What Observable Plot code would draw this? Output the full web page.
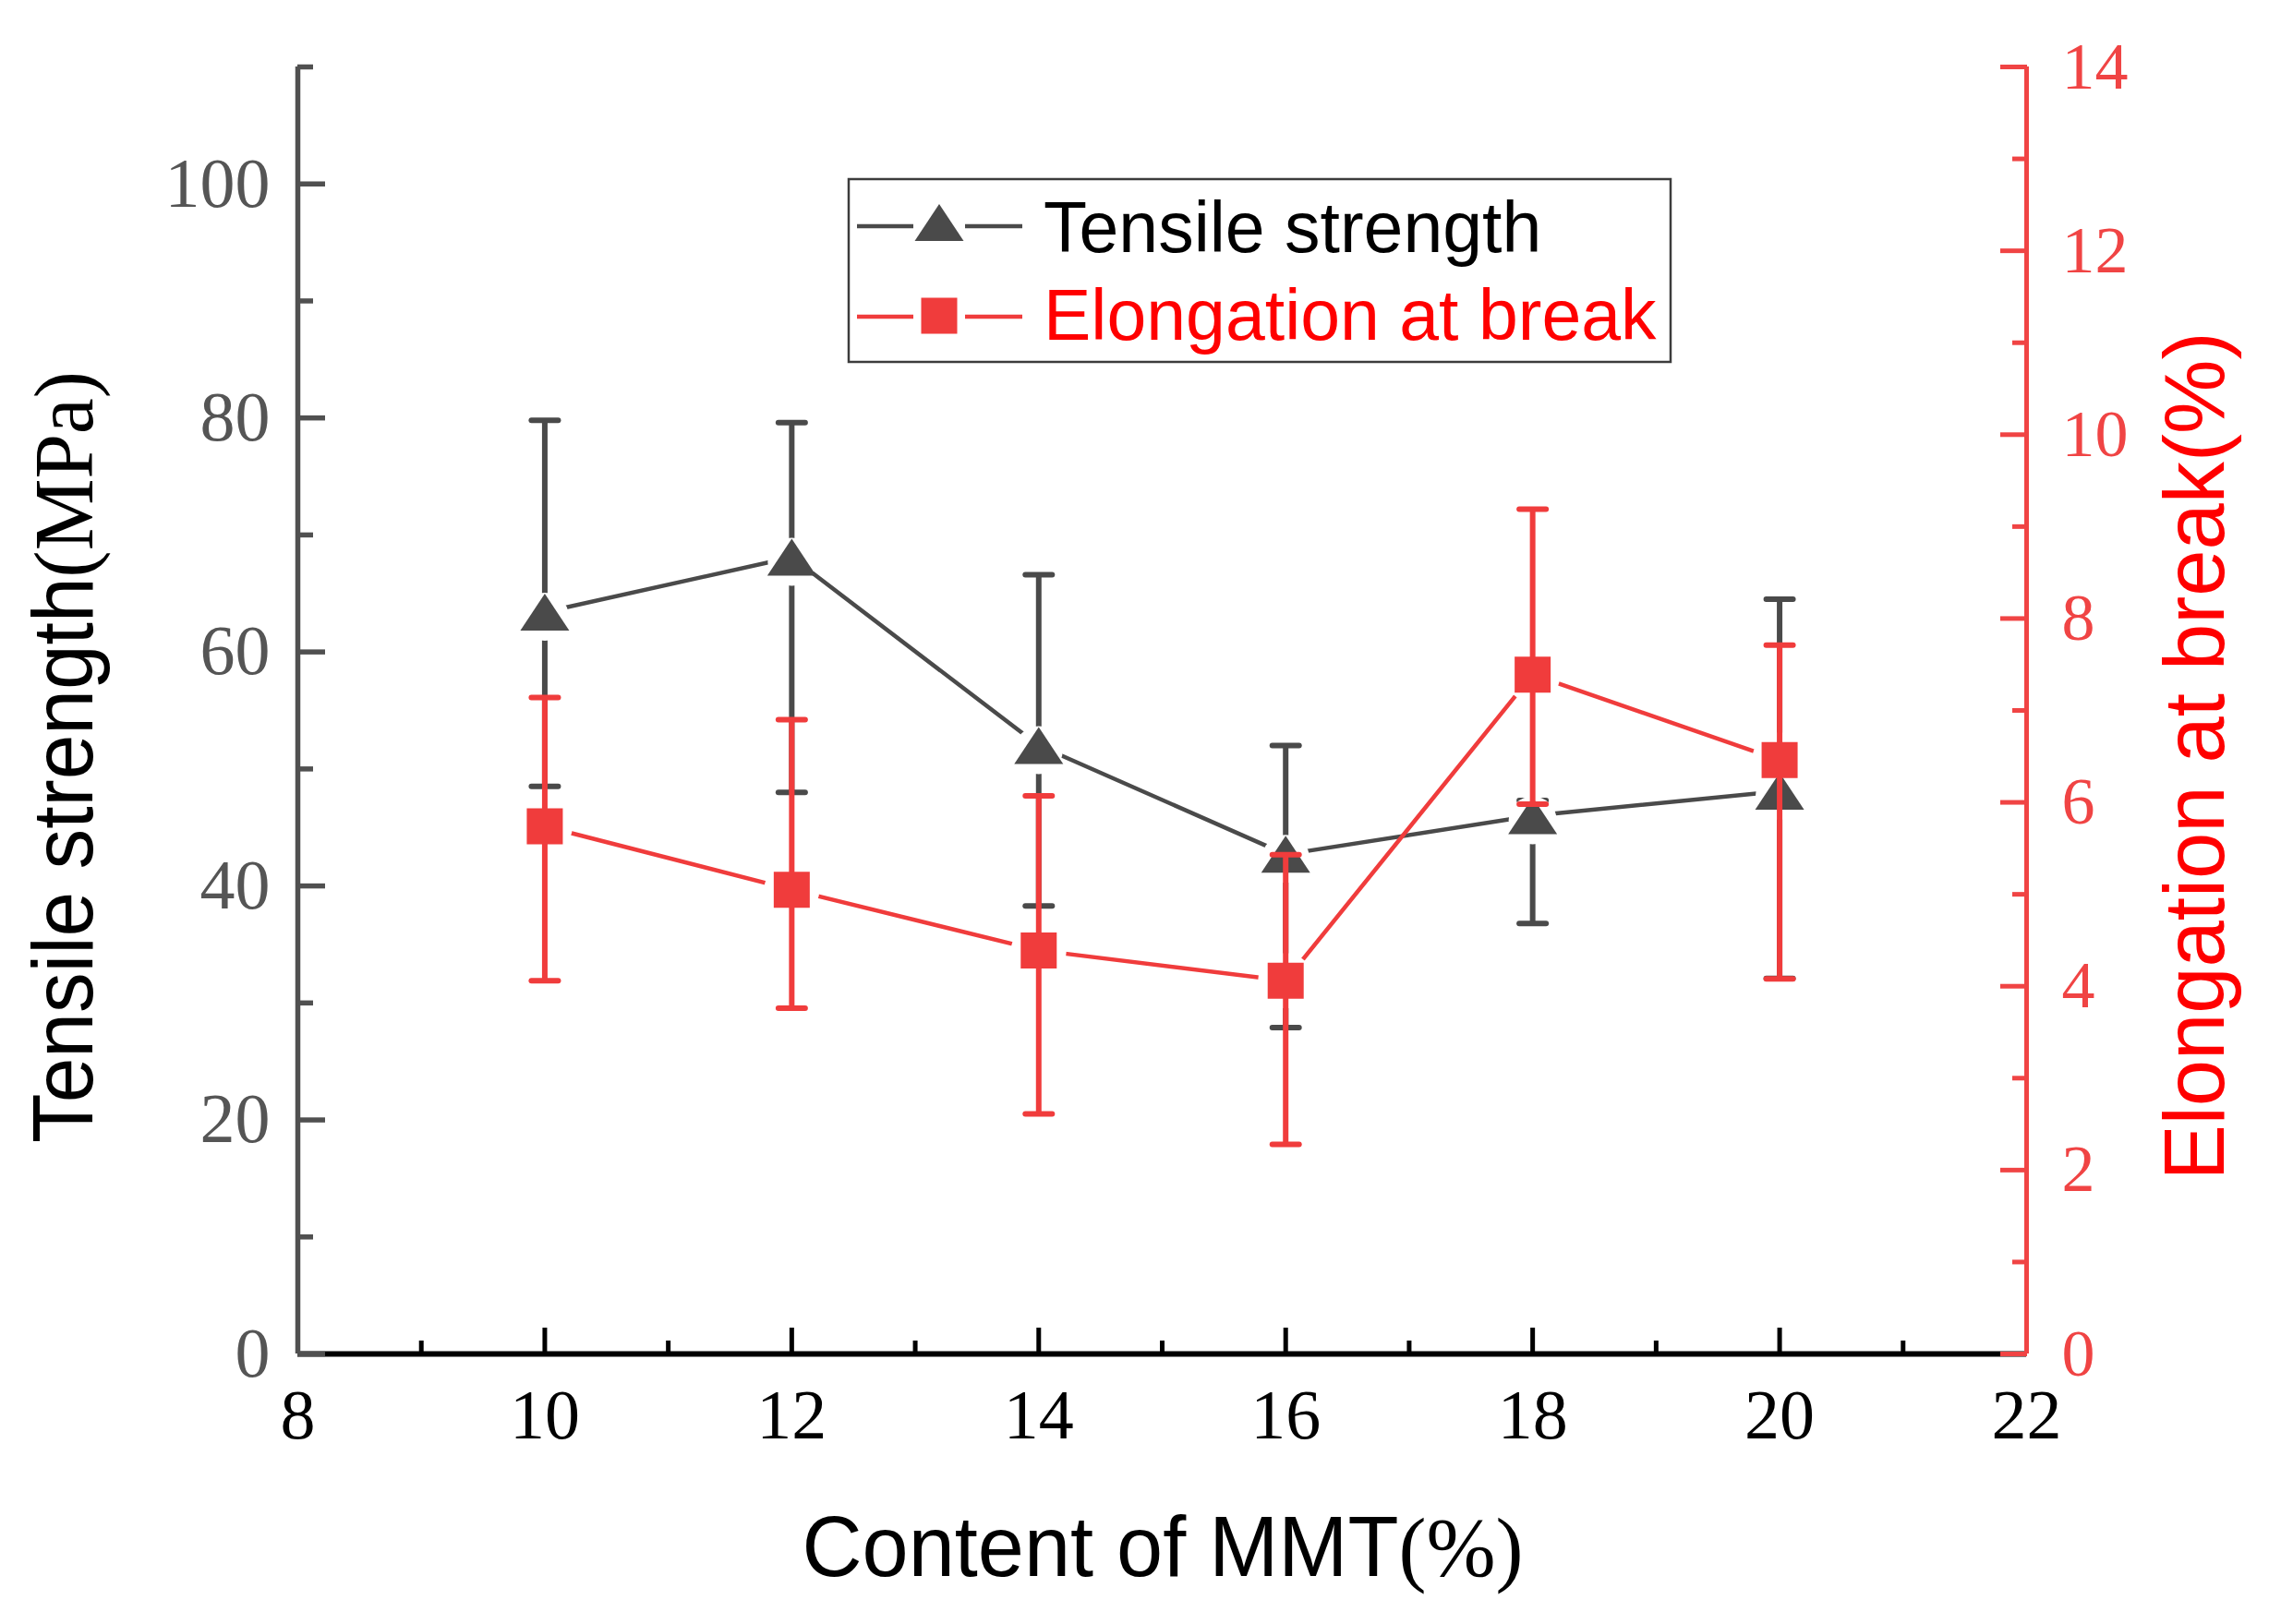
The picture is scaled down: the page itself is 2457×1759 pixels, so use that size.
<!DOCTYPE html>
<html>
<head>
<meta charset="utf-8">
<script src="https://cdn.jsdelivr.net/npm/d3@7"></script>
<script src="https://cdn.jsdelivr.net/npm/@observablehq/plot@0.6"></script>
<style>
html, body { margin: 0; padding: 0; background: #fff; }
#chart svg { display: block; }
</style>
</head>
<body>
<div id="chart"></div>
<script>
// ---------- data ----------
const content     = [10, 12, 14, 16, 18, 20];
const tensile     = [63.4, 68.1, 52.0, 42.7, 46.0, 48.1];
const tensileLow  = [48.5, 48.0, 38.3, 27.9, 36.8, 32.1];
const tensileHigh = [79.8, 79.6, 66.6, 52.0, 47.3, 64.5];
const elong       = [5.74, 5.05, 4.39, 4.06, 7.39, 6.46];
const elongLow    = [4.06, 3.76, 2.61, 2.28, 5.98, 4.08];
const elongHigh   = [7.14, 6.90, 6.07, 5.43, 9.19, 7.71];

const xLabels    = [8, 10, 12, 14, 16, 18, 20, 22];
const xMajor     = [10, 12, 14, 16, 18, 20];
const xMinor     = [9, 11, 13, 15, 17, 19, 21];
const leftMajor  = [0, 20, 40, 60, 80, 100];
const leftMinor  = [10, 30, 50, 70, 90, 110];
const rightMajor = [0, 2, 4, 6, 8, 10, 12, 14];
const rightMinor = [1, 3, 5, 7, 9, 11, 13];

const xDomain = [8, 22];
const leftMax = 110;
const rightMax = 14;

// ---------- derived table ----------
const k = leftMax / rightMax; // right axis -> left axis units
const rows = content.map((c, i) => ({
  c,
  t: tensile[i], tLo: tensileLow[i], tHi: tensileHigh[i],
  e: elong[i] * k, eLo: elongLow[i] * k, eHi: elongHigh[i] * k
}));

// ---------- styles ----------
const DARK = "#4a4a4a";
const AXDARK = "#505050";
const RED = "#f03c3c";
const AXRED = "#f04444";
const TXTRED = "#ff0000";
const LW = 4.5;   // connecting line width
const BW = 6;     // error bar width

const triSym = {draw(ctx) { ctx.moveTo(0, -20); ctx.lineTo(26.5, 20); ctx.lineTo(-26.5, 20); ctx.closePath(); }};
const sqSym  = {draw(ctx) { ctx.rect(-19.5, -19.5, 39, 39); }};
const capSym = {draw(ctx) { ctx.moveTo(-14.5, 0); ctx.lineTo(14.5, 0); }};
const triHalo = {draw(ctx) { ctx.moveTo(26, 5); ctx.arc(0, 5, 26, 0, 2 * Math.PI); ctx.closePath(); }};
const sqHalo  = {draw(ctx) { ctx.moveTo(30, 0); ctx.arc(0, 0, 30, 0, 2 * Math.PI); ctx.closePath(); }};

const plot = Plot.plot({
  width: 2457,
  height: 1759,
  marginLeft: 322,
  marginRight: 263,
  marginTop: 72,
  marginBottom: 293,
  x: {domain: xDomain},
  y: {domain: [0, leftMax]},
  style: {background: "white", overflow: "visible"},
  marks: [
    // axis lines
    Plot.ruleY([0], {stroke: "#000", strokeWidth: 6}),
    Plot.ruleX([xDomain[0]], {stroke: AXDARK, strokeWidth: 5.5}),
    Plot.ruleX([xDomain[1]], {stroke: AXRED, strokeWidth: 5}),
    // left ticks (inward)
    Plot.axisY(leftMajor, {anchor: "left", tickSize: 30, dx: 30, tickFormat: () => "", label: null, stroke: AXDARK, strokeWidth: 5.5}),
    Plot.axisY(leftMinor, {anchor: "left", tickSize: 17, dx: 17, tickFormat: () => "", label: null, stroke: AXDARK, strokeWidth: 5.5}),
    Plot.axisY(leftMajor, {anchor: "left", tickSize: 0, tickPadding: 30, label: null, tickFormat: d => String(d), fontSize: 76, fontFamily: "Liberation Serif", color: "#555"}),
    // bottom ticks (inward)
    Plot.axisX(xMajor, {anchor: "bottom", tickSize: 28, dy: -28, tickFormat: () => "", label: null, stroke: "#000", strokeWidth: 5}),
    Plot.axisX(xMinor, {anchor: "bottom", tickSize: 14, dy: -14, tickFormat: () => "", label: null, stroke: "#000", strokeWidth: 5}),
    Plot.axisX(xLabels, {anchor: "bottom", tickSize: 0, tickPadding: 38, label: null, tickFormat: d => String(d), fontSize: 76, fontFamily: "Liberation Serif", color: "#000"}),
    // right ticks (inward)
    Plot.axisY(rightMajor.map(v => v * k), {anchor: "right", tickSize: 29, dx: -29, tickFormat: () => "", label: null, stroke: AXRED, strokeWidth: 5}),
    Plot.axisY(rightMinor.map(v => v * k), {anchor: "right", tickSize: 16, dx: -16, tickFormat: () => "", label: null, stroke: AXRED, strokeWidth: 5}),
    Plot.axisY(rightMajor.map(v => v * k), {anchor: "right", tickSize: 0, tickPadding: 38, label: null, tickFormat: d => String(Math.round(d / k)), fontSize: 72, fontFamily: "Liberation Serif", color: AXRED}),

    // connecting lines
    Plot.line(rows, {x: "c", y: "t", stroke: DARK, strokeWidth: LW}),
    Plot.line(rows, {x: "c", y: "e", stroke: RED, strokeWidth: LW}),
    // tensile error bars
    Plot.ruleX(rows, {x: "c", y1: "tLo", y2: "tHi", stroke: DARK, strokeWidth: BW}),
    Plot.dot(rows, {x: "c", y: "tLo", symbol: capSym, r: 10, fill: "none", stroke: DARK, strokeWidth: BW, strokeLinecap: "round"}),
    Plot.dot(rows, {x: "c", y: "tHi", symbol: capSym, r: 10, fill: "none", stroke: DARK, strokeWidth: BW, strokeLinecap: "round"}),
    // white gaps around markers
    Plot.dot(rows, {x: "c", y: "t", symbol: triHalo, r: 20, fill: "white", stroke: "none"}),
    Plot.dot(rows, {x: "c", y: "e", symbol: sqHalo, r: 20, fill: "white", stroke: "none"}),
    // tensile markers
    Plot.dot(rows, {x: "c", y: "t", symbol: triSym, r: 20, fill: DARK, stroke: "none"}),
    // elongation error bars
    Plot.ruleX(rows, {x: "c", y1: "eLo", y2: "eHi", stroke: RED, strokeWidth: BW}),
    Plot.dot(rows, {x: "c", y: "eLo", symbol: capSym, r: 10, fill: "none", stroke: RED, strokeWidth: BW, strokeLinecap: "round"}),
    Plot.dot(rows, {x: "c", y: "eHi", symbol: capSym, r: 10, fill: "none", stroke: RED, strokeWidth: BW, strokeLinecap: "round"}),
    // elongation markers
    Plot.dot(rows, {x: "c", y: "e", symbol: sqSym, r: 20, fill: RED, stroke: "none"})
  ]
});

document.getElementById("chart").appendChild(plot);

// ---------- titles & legend ----------
const svg = d3.select(plot);
const SANS = "'Liberation Sans', Arial, sans-serif";
const SERIF = "'Liberation Serif', 'Times New Roman', serif";

// left title
const lt = svg.append("text")
  .attr("transform", "translate(100,820) rotate(-90)")
  .attr("text-anchor", "middle")
  .attr("font-size", 92)
  .attr("fill", "#000")
  .attr("textLength", 836)
  .attr("lengthAdjust", "spacingAndGlyphs");
lt.append("tspan").attr("font-family", SANS).text("Tensile strength");
lt.append("tspan").attr("font-family", SERIF).text("(MPa)");

// bottom title
const bt = svg.append("text")
  .attr("x", 1259).attr("y", 1707)
  .attr("text-anchor", "middle")
  .attr("font-size", 92)
  .attr("fill", "#000")
  .attr("textLength", 781)
  .attr("lengthAdjust", "spacingAndGlyphs");
bt.append("tspan").attr("font-family", SANS).text("Content of MMT");
bt.append("tspan").attr("font-family", SERIF).text("(%)");

// right title
svg.append("text")
  .attr("transform", "translate(2408,819) rotate(-90)")
  .attr("text-anchor", "middle")
  .attr("font-size", 92)
  .attr("font-family", SANS)
  .attr("fill", TXTRED)
  .attr("textLength", 919)
  .attr("lengthAdjust", "spacingAndGlyphs")
  .text("Elongation at break(%)");

// legend
const leg = svg.append("g");
leg.append("rect")
  .attr("x", 919).attr("y", 194).attr("width", 890).attr("height", 198)
  .attr("fill", "white").attr("stroke", "#3c3c3c").attr("stroke-width", 2.5);
const legItems = [
  {label: "Tensile strength", color: DARK, text: "#000", sym: triSym, ly: 245, my: 241, ty: 273},
  {label: "Elongation at break", color: RED, text: TXTRED, sym: sqSym, ly: 343, my: 342, ty: 368}
];
for (const it of legItems) {
  leg.append("line").attr("x1", 928).attr("x2", 989).attr("y1", it.ly).attr("y2", it.ly)
    .attr("stroke", it.color).attr("stroke-width", LW);
  leg.append("line").attr("x1", 1045).attr("x2", 1107).attr("y1", it.ly).attr("y2", it.ly)
    .attr("stroke", it.color).attr("stroke-width", LW);
  leg.append("path").attr("d", d3.symbol(it.sym)()).attr("transform", `translate(1017,${it.my})`)
    .attr("fill", it.color);
  leg.append("text").attr("x", 1130).attr("y", it.ty)
    .attr("text-anchor", "start")
    .attr("font-family", SANS).attr("font-size", 77).attr("fill", it.text)
    .text(it.label);
}
</script>
</body>
</html>
